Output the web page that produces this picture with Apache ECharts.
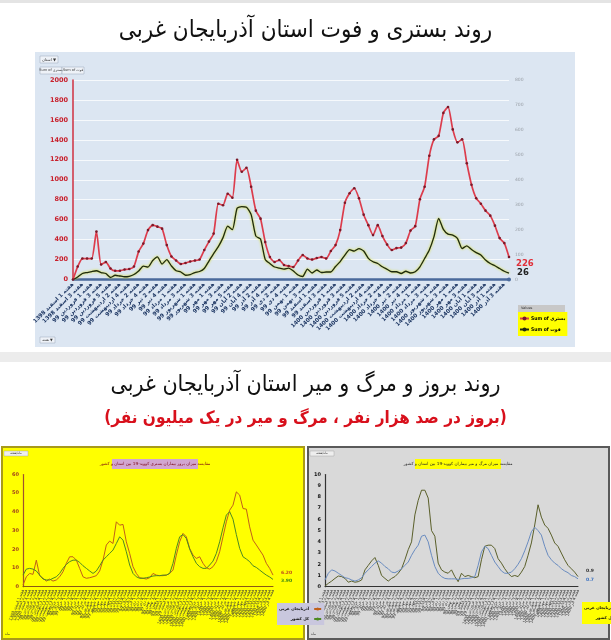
<!DOCTYPE html>
<html><head><meta charset="utf-8">
<script src="https://cdn.jsdelivr.net/npm/echarts@6.0.0/dist/echarts.min.js"></script>
<style>html,body{margin:0;padding:0;background:#fff;}#c{width:611px;height:640px;}</style>
</head><body><div id="c"></div><script>
// ---------- DATA ----------
const months = ['فروردین','اردیبهشت','خرداد','تیر','مرداد','شهریور','مهر','آبان','آذر','دی','بهمن','اسفند'];
const weeksEsfand1398 = 4;
const weeksPerMonth1399 = [5,4,4,5,4,4,5,4,4,5,4,4];
const weeksPerMonth1400 = [5,4,4,5,4,4,4,4,4];

// weekly hospitalised (left axis) and deaths (right axis)
const hospitalized = [0,130,210,210,210,480,150,175,110,87,87,100,105,130,280,360,495,545,530,510,345,230,190,155,165,180,190,200,295,380,460,760,
745,860,820,1200,1080,1120,930,690,610,375,225,175,195,145,135,125,190,245,210,200,215,225,210,285,345,495,770,865,915,815,650,545,
445,545,435,350,295,315,320,365,490,535,805,930,1240,1405,1440,1670,1730,1505,1375,1405,1165,950,815,760,690,640,540,415,365,226];
const deaths = [0,10,24,28,32,35,28,24,8,17,14,11,13,20,34,54,50,76,91,62,80,54,35,30,17,20,28,32,44,74,104,132,
168,214,200,286,292,290,260,174,162,80,64,50,46,42,46,34,18,12,42,26,38,28,30,30,52,72,98,120,114,124,114,85,
71,64,51,41,31,31,24,33,26,31,51,84,118,172,245,201,182,178,165,124,135,120,108,98,78,64,55,44,33,26];

// incidence per 100k (yellow chart)
const incidenceProvince = [0.9,5.3,7.1,6.6,14.2,5.9,4.5,3.0,4.1,3.0,3.6,5.3,8.0,12.5,16.0,16.0,14.2,9.8,5.3,4.5,
4.8,5.3,5.9,8.4,14.2,22.3,24.4,23.1,34.7,32.9,33.3,24.0,17.8,10.7,7.1,4.8,4.5,4.1,4.8,7.1,
6.2,5.9,5.9,6.2,7.1,8.9,16.9,24.0,28.5,26.7,20.5,16.9,15.1,16.0,12.5,10.1,9.4,10.7,13.4,18.7,
26.7,34.7,40.9,43.6,50.7,49.0,41.8,41.5,32.0,24.9,22.3,19.6,16.9,12.5,9.8,6.2];
const incidenceCountry = [6.2,9.4,9.8,9.4,8.4,6.2,4.1,3.6,3.6,4.5,5.3,7.1,9.8,11.9,13.4,14.2,14.2,13.0,11.2,9.8,
8.4,7.1,8.4,11.2,14.2,16.0,17.8,19.6,23.1,26.7,24.9,18.7,11.6,7.1,5.3,4.5,4.5,4.8,5.2,5.7,
5.9,5.9,6.2,6.2,7.1,12.5,20.5,26.7,27.9,25.8,20.1,16.0,12.5,10.7,9.8,9.8,11.6,13.7,17.8,24.0,
31.5,38.3,40.1,36.1,27.9,20.5,16.0,14.8,13.4,11.2,10.3,8.9,7.5,6.2,5.2,3.9];

// mortality per 1M (grey chart)
const mortalityProvince = [0.06,0.3,0.5,0.74,0.95,0.9,0.74,0.4,0.5,0.4,0.45,0.6,1.5,1.9,2.3,2.6,1.9,1.0,0.74,0.5,
0.74,0.9,1.2,1.6,2.4,3.3,4.0,6.4,7.7,8.6,8.6,7.9,5.0,4.5,2.1,1.5,1.3,1.2,1.5,0.9,
0.45,1.2,0.9,1.0,0.9,0.8,0.9,2.4,3.6,3.7,3.7,3.4,2.5,2.1,1.6,1.2,0.9,1.0,0.9,1.3,
1.8,2.8,3.9,5.5,7.3,6.2,5.5,5.2,4.6,3.9,3.6,3.0,2.4,1.9,1.6,1.3,0.9];
const mortalityCountry = [0.6,1.2,1.5,1.4,1.2,1.0,0.8,0.74,0.6,0.5,0.6,0.8,1.2,1.5,1.8,2.1,2.3,2.1,1.8,1.6,
1.3,1.25,1.4,1.6,1.9,2.2,2.8,3.3,3.7,4.5,4.6,4.0,2.8,1.8,1.2,0.9,0.74,0.7,0.7,0.7,
0.65,0.7,0.74,0.74,0.8,0.9,1.9,3.1,3.6,3.4,2.8,2.2,1.8,1.4,1.2,1.2,1.3,1.6,2.0,2.5,
3.2,4.0,4.9,5.3,5.0,4.6,3.6,2.8,2.4,2.1,1.9,1.6,1.4,1.25,1.0,0.9,0.7];

const leftTicks = {min:0, max:2000, interval:200};
const rightTicks = {min:0, max:800, interval:100};

// ---------- CATEGORIES ----------
const weeks = [];
for (let w = 1; w <= weeksEsfand1398; w++) weeks.push('هفته ' + w + ' اسفند 1398');
weeksPerMonth1399.forEach((n, m) => { for (let w = 1; w <= n; w++) weeks.push('هفته ' + w + ' ' + months[m] + ' 99'); });
weeksPerMonth1400.forEach((n, m) => { for (let w = 1; w <= n; w++) weeks.push('هفته ' + w + ' ' + months[m] + ' 1400'); });
const sub = n => Array.from({length:n}, (_, i) => weeks[Math.round(i * (weeks.length - 1) / (n - 1))]);
const cats1 = sub(incidenceProvince.length);
const cats2 = sub(mortalityProvince.length);

const F = 'DejaVu Sans';
const FC = '"DejaVu Sans Condensed", "DejaVu Sans"';
const legendNames = {prov1:'آذربایجان غربی', nat1:'کل کشور', prov2:'آذربایجان غربی', nat2:'کل کشور'};

const chart = echarts.init(document.getElementById('c'), null, {renderer:'canvas'});
const txt = (x, y, text, size, fill, align, extra) => Object.assign({type:'text', silent:true, z:5,
  style:{x, y, text, font: size + 'px "' + F + '"', fill, align: align || 'center', verticalAlign:'middle'}}, extra || {});
const box = (x, y, w, h, fill, stroke, lw, z) => ({type:'rect', silent:true, z: z === undefined ? -10 : z,
  shape:{x, y, width:w, height:h}, style:{fill, stroke: stroke || null, lineWidth: lw || 0}});

chart.setOption({
  animation:false,
  textStyle:{fontFamily:F},
  title:[
    {text:'روند بستری و فوت استان آذربایجان غربی', left:'center', top:19, padding:0,
     textStyle:{fontSize:24, fontWeight:'normal', color:'#111', fontFamily:FC}},
    {text:'روند بروز و مرگ و میر استان آذربایجان غربی', left:'center', top:374, padding:0,
     textStyle:{fontSize:23, fontWeight:'normal', color:'#111', fontFamily:FC}},
    {text:'(بروز در صد هزار نفر ، مرگ و میر در یک میلیون نفر)', left:'center', top:410, padding:0,
     textStyle:{fontSize:17, fontWeight:'bold', color:'#d8101c', fontFamily:FC}}
  ],
  graphic:{elements:[
    box(0,0,611,3,'#e4e4e4'),
    box(35,52,540,295,'#dce6f2'),
    box(0,352,611,10,'#ececec'),
    box(2,447,302,192,'#ffff00','#a89a1a',2),
    box(308,447,301,192,'#d9d9d9','#5a5a5a',2),
    // pivot buttons top chart
    box(40,56,18,7,'#eef2f8','#9aa4b8',0.5,1),
    txt(49,59.5,'استان ▼',4,'#333'),
    box(40,67,22,7,'#eef2f8','#9aa4b8',0.5,1),
    txt(51,70.5,'Sum of بستری',3.5,'#333'),
    box(62,67,22,7,'#eef2f8','#9aa4b8',0.5,1),
    txt(73,70.5,'Sum of فوت',3.5,'#333'),
    box(40,337,15,6,'#eef2f8','#9aa4b8',0.5,1),
    txt(47.5,340,'هفته ▼',3.5,'#333'),
    // legend header
    box(518,305,47,7,'#c8c8c8',null,0,1),
    txt(521,308.5,'Values',3.5,'#333','left'),
    // bottom panel title boxes
    box(112,459,86,10,'#d2a6d0',null,0,1),
    txt(155,464,'مقایسه میزان بروز بیماران بستری کووید-19 بین استان و کشور',4.2,'#7a0010'),
    box(415,459,86,10,'#ffff00',null,0,1),
    txt(458,464,'مقایسه میزان مرگ و میر بیماران کووید-19 بین استان و کشور',4.2,'#222'),
    // small tags
    box(4,451,24,5,'#eeeeee','#999',0.4,1),
    txt(16,453.5,'ماه/هفته',3.2,'#333'),
    box(310,451,24,5,'#eeeeee','#999',0.4,1),
    txt(322,453.5,'ماه/هفته',3.2,'#333'),
    txt(5,634,'ماه',3.5,'#333','left'),
    txt(311,634,'ماه',3.5,'#333','left')
  ]},
  legend:[
    {data:['Sum of بستری','Sum of فوت'], left:518, top:312, orient:'vertical', backgroundColor:'#ffff00',
     padding:[4,2,4,1], itemGap:6, itemWidth:9, itemHeight:5, selectedMode:false,
     textStyle:{fontSize:5, fontWeight:'bold', color:'#000', fontFamily:FC, padding:[0,0,0,-3]}},
    {data:['prov1','nat1'], formatter:n => legendNames[n], left:277, top:603, orient:'vertical', align:'right',
     backgroundColor:'#c9c7de', padding:[4,2,4,2], itemGap:6, itemWidth:7, itemHeight:4, selectedMode:false,
     textStyle:{fontSize:4, fontWeight:'bold', color:'#111', fontFamily:F}},
    {data:['prov2','nat2'], formatter:n => legendNames[n], left:582, top:602, orient:'vertical', align:'right',
     backgroundColor:'#ffff00', padding:[4,2,4,2], itemGap:6, itemWidth:7, itemHeight:4, selectedMode:false,
     textStyle:{fontSize:4, fontWeight:'bold', color:'#111', fontFamily:F}}
  ],
  grid:[
    {left:73, top:80, width:436, height:199.5},
    {left:23, top:474.5, width:250, height:112.2},
    {left:325, top:474.5, width:253, height:112.2}
  ],
  xAxis:[
    {type:'category', gridIndex:0, data:weeks, boundaryGap:false,
     axisLine:{lineStyle:{color:'#4a6a9c', width:2.5}, symbol:['none','circle'], symbolSize:[4,4]},
     axisTick:{show:false},
     axisLabel:{interval:1, rotate:45, fontSize:5.5, fontWeight:'bold', color:'#1f3864', margin:4}},
    {type:'category', gridIndex:1, data:cats1, boundaryGap:false,
     axisLine:{lineStyle:{color:'#8b5a14', width:1}}, axisTick:{show:false},
     axisLabel:{interval:0, rotate:68, fontSize:4.4, color:'#3a3a3a', margin:3, fontFamily:FC}},
    {type:'category', gridIndex:2, data:cats2, boundaryGap:false,
     axisLine:{lineStyle:{color:'#333', width:1}}, axisTick:{show:false},
     axisLabel:{interval:0, rotate:68, fontSize:4.4, color:'#3a3a3a', margin:3, fontFamily:FC}}
  ],
  yAxis:[
    Object.assign({type:'value', gridIndex:0,
     axisLine:{show:true, lineStyle:{color:'#d03040', width:1.5}}, axisTick:{show:false},
     axisLabel:{fontSize:6.5, fontWeight:'bold', color:'#c8202c', margin:5, formatter:v => String(v)},
     splitLine:{lineStyle:{color:'rgba(255,255,255,0.75)', width:1}}}, leftTicks),
    Object.assign({type:'value', gridIndex:0, position:'right',
     axisLine:{show:false}, axisTick:{show:false},
     axisLabel:{fontSize:4.5, color:'#9aa0a8', margin:6, formatter:v => String(v)}, splitLine:{show:false}}, rightTicks),
    {type:'value', gridIndex:1, min:0, max:60, interval:10,
     axisLine:{show:true, lineStyle:{color:'#a0522d', width:1.2}}, axisTick:{show:false},
     axisLabel:{fontSize:5, fontWeight:'bold', color:'#a0421d', margin:4}, splitLine:{show:false}},
    {type:'value', gridIndex:2, min:0, max:10, interval:1,
     axisLine:{show:true, lineStyle:{color:'#333', width:1.2}}, axisTick:{show:false},
     axisLabel:{fontSize:5, fontWeight:'bold', color:'#111', margin:4}, splitLine:{show:false}}
  ],
  series:[
    {name:'Sum of بستری', type:'line', xAxisIndex:0, yAxisIndex:0, data:hospitalized, smooth:0.2,
     symbol:'circle', symbolSize:2.6, itemStyle:{color:'#7a1828'},
     lineStyle:{color:'#dc3c4c', width:1.7}, z:4,
     endLabel:{show:true, formatter:p => p.value, color:'#e0303a', fontWeight:'bold', fontSize:8.5, offset:[-1,7], fontFamily:F}},
    {name:'Sum of فوت', type:'line', xAxisIndex:0, yAxisIndex:1, data:deaths, smooth:0.2,
     symbol:'none', itemStyle:{color:'#1e2a10'},
     lineStyle:{color:'#1e2a10', width:1.3, shadowColor:'#d8e000', shadowBlur:2.5}, z:3,
     endLabel:{show:true, formatter:p => p.value, color:'#222', fontWeight:'bold', fontSize:8.5, offset:[0,0], fontFamily:F}},
    {name:'prov1', type:'line', xAxisIndex:1, yAxisIndex:2, data:incidenceProvince, symbol:'none',
     itemStyle:{color:'#c0601a'}, lineStyle:{color:'#c0601a', width:1},
     endLabel:{show:true, formatter:p => p.value.toFixed(2), color:'#c0501a', fontWeight:'bold', fontSize:4.5, offset:[0,-2]}},
    {name:'nat1', type:'line', xAxisIndex:1, yAxisIndex:2, data:incidenceCountry, symbol:'none',
     itemStyle:{color:'#4e8a22'}, lineStyle:{color:'#4e8a22', width:1},
     endLabel:{show:true, formatter:p => p.value.toFixed(2), color:'#3e8a12', fontWeight:'bold', fontSize:4.5, offset:[0,1]}},
    {name:'prov2', type:'line', xAxisIndex:2, yAxisIndex:3, data:mortalityProvince, symbol:'none',
     itemStyle:{color:'#5a5f2a'}, lineStyle:{color:'#5a5f2a', width:1},
     endLabel:{show:true, formatter:p => p.value.toFixed(1), color:'#333', fontWeight:'bold', fontSize:4.5, offset:[0,-6]}},
    {name:'nat2', type:'line', xAxisIndex:2, yAxisIndex:3, data:mortalityCountry, symbol:'none',
     itemStyle:{color:'#6a8cc0'}, lineStyle:{color:'#6a8cc0', width:1},
     endLabel:{show:true, formatter:p => p.value.toFixed(1), color:'#3a70c0', fontWeight:'bold', fontSize:4.5, offset:[0,1]}}
  ]
});
</script></body></html>
